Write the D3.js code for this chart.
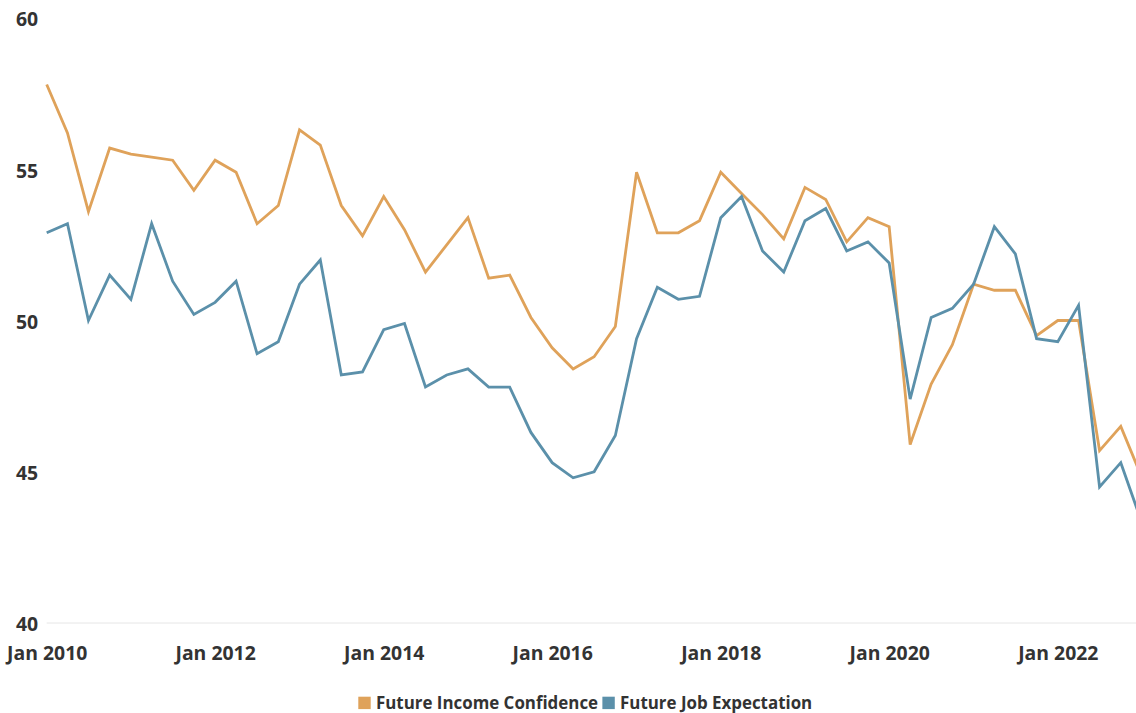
<!DOCTYPE html>
<html>
<head>
<meta charset="utf-8">
<script src="https://cdn.jsdelivr.net/npm/d3@7"></script>
<style>
  html, body { margin: 0; padding: 0; background: #fff; overflow: hidden; }
  svg { display: block; }
  text { font-family: "Open Sans", Lato, sans-serif; font-weight: 700; fill: #333; }
</style>
</head>
<body>
<svg id="chart" width="1136" height="713"></svg>
<script>
const quarters = [
  "2010-01","2010-04","2010-07","2010-10","2011-01","2011-04","2011-07","2011-10",
  "2012-01","2012-04","2012-07","2012-10","2013-01","2013-04","2013-07","2013-10",
  "2014-01","2014-04","2014-07","2014-10","2015-01","2015-04","2015-07","2015-10",
  "2016-01","2016-04","2016-07","2016-10","2017-01","2017-04","2017-07","2017-10",
  "2018-01","2018-04","2018-07","2018-10","2019-01","2019-04","2019-07","2019-10",
  "2020-01","2020-04","2020-07","2020-10","2021-01","2021-04","2021-07","2021-10",
  "2022-01","2022-04","2022-07","2022-10","2023-01"
];
const incomeConfidence = [
  57.8, 56.2, 53.6, 55.7, 55.5, 55.4, 55.3, 54.3,
  55.3, 54.9, 53.2, 53.8, 56.3, 55.8, 53.8, 52.8,
  54.1, 53.0, 51.6, 52.5, 53.4, 51.4, 51.5, 50.1,
  49.1, 48.4, 48.8, 49.8, 54.9, 52.9, 52.9, 53.3,
  54.9, 54.2, 53.5, 52.7, 54.4, 54.0, 52.6, 53.4,
  53.1, 45.9, 47.9, 49.2, 51.2, 51.0, 51.0, 49.5,
  50.0, 50.0, 45.7, 46.5, 44.8
];
const jobExpectation = [
  52.9, 53.2, 50.0, 51.5, 50.7, 53.2, 51.3, 50.2,
  50.6, 51.3, 48.9, 49.3, 51.2, 52.0, 48.2, 48.3,
  49.7, 49.9, 47.8, 48.2, 48.4, 47.8, 47.8, 46.3,
  45.3, 44.8, 45.0, 46.2, 49.4, 51.1, 50.7, 50.8,
  53.4, 54.1, 52.3, 51.6, 53.3, 53.7, 52.3, 52.6,
  51.9, 47.4, 50.1, 50.4, 51.2, 53.1, 52.2, 49.4,
  49.3, 50.5, 44.5, 45.3, 43.3
];
const seriesNames = ["Future Income Confidence", "Future Job Expectation"];
const seriesColors = ["#DFA25A", "#5B90AA"];
const yTicks = [40, 45, 50, 55, 60];
const xTickLabels = ["2010-01","2012-01","2014-01","2016-01","2018-01","2020-01","2022-01"];

const parse = d3.timeParse("%Y-%m");
const dates = quarters.map(parse);
const svg = d3.select("#chart");

const x = d3.scaleTime()
  .domain([parse("2010-01"), parse("2023-01")])
  .range([46.7, 1142]);
const y = d3.scaleLinear().domain([40, 60]).range([623, 18]);

// baseline gridline
svg.append("line")
  .attr("x1", x(parse("2010-01"))).attr("x2", 1142)
  .attr("y1", y(40)).attr("y2", y(40))
  .attr("stroke", "#e6e6e6").attr("stroke-width", 1);

// y axis
const yAxis = d3.axisLeft(y).tickValues(yTicks).tickSize(0).tickPadding(0);
const gy = svg.append("g").attr("transform", "translate(16,0)").call(yAxis);
gy.select(".domain").remove();
gy.selectAll("text").attr("text-anchor", "start").attr("x", 0).attr("dy", "0.4em")
  .style("font-size", "19.4px").style("font-family", null).attr("fill", "#333");

// x axis
const xAxis = d3.axisBottom(x).tickValues(xTickLabels.map(parse))
  .tickFormat(d3.timeFormat("Jan %Y")).tickSize(0).tickPadding(0);
const gx = svg.append("g").attr("transform", "translate(0,646)").call(xAxis);
gx.select(".domain").remove();
gx.selectAll("text").style("font-size", "19.4px").style("font-family", null).attr("fill", "#333");

// lines
const line = d3.line().x((d, i) => x(dates[i])).y(d => y(d));
[incomeConfidence, jobExpectation].forEach((vals, k) => {
  svg.append("path").datum(vals)
    .attr("fill", "none")
    .attr("stroke", seriesColors[k])
    .attr("stroke-width", 2.8)
    .attr("stroke-linejoin", "miter")
    .attr("d", line);
});

// legend
const legend = svg.append("g").attr("transform", "translate(358.3,703)");
let lx = 0;
seriesNames.forEach((name, k) => {
  const g = legend.append("g").attr("transform", `translate(${lx},0)`);
  g.append("rect").attr("x", 0).attr("y", -6.3).attr("width", 12.4).attr("height", 12.4)
    .attr("fill", seriesColors[k]);
  const t = g.append("text").attr("x", 17.7).attr("dy", "0.36em")
    .style("font-size", "16.9px").text(name);
  lx += 17.7 + t.node().getComputedTextLength() + 4.3;
});
</script>
</body>
</html>
